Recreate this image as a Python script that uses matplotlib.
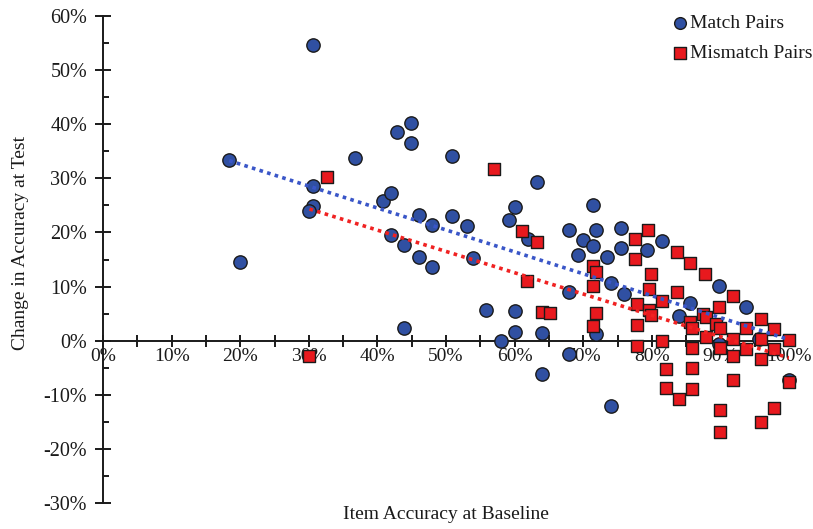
import numpy as np
import matplotlib
matplotlib.use("Agg")
import matplotlib.pyplot as plt
from matplotlib.ticker import MultipleLocator, FuncFormatter

plt.rcParams['font.family'] = ['Liberation Serif', 'DejaVu Serif']

# baseline accuracy (%) and change at test (%)
match_x = [18.4, 20.0, 30.6, 30.6, 30.6, 30.0, 36.8, 40.8, 42.0, 42.0,
           42.8, 44.9, 44.9, 43.9, 43.9, 46.0, 46.0, 48.0, 48.0, 50.9,
           50.9, 53.0, 53.9, 55.9, 58.0, 60.0, 60.0, 59.2, 60.0, 63.3,
           61.9, 64.0, 64.0, 67.9, 67.9, 67.9, 70.0, 69.3, 71.4, 71.4,
           71.9, 71.9, 73.4, 74.0, 74.0, 75.5, 75.5, 75.9, 79.3, 81.5,
           85.6, 84.0, 89.8, 89.8, 93.8, 95.6, 100.0]
match_y = [33.4, 14.6, 54.6, 28.6, 24.9, 23.9, 33.7, 25.9, 27.3, 19.6,
           38.6, 40.3, 36.6, 17.6, 2.3, 23.3, 15.5, 21.3, 13.7, 34.2,
           23.1, 21.1, 15.3, 5.6, -0.1, 5.4, 1.6, 22.3, 24.7, 29.4,
           18.8, 1.5, -6.2, 20.5, 9.0, -2.5, 18.6, 15.9, 25.0, 17.5,
           20.4, 1.2, 15.5, 10.7, -12.1, 20.8, 17.2, 8.7, 16.8, 18.4,
           7.0, 4.6, 10.1, -0.7, 6.3, 0.4, -7.2]

mismatch_x = [30.1, 32.6, 57.0, 61.1, 63.3, 61.8, 64.0, 65.2, 71.4, 71.9,
              71.4, 71.9, 71.4, 77.5, 77.5, 77.9, 77.9, 77.9, 79.5, 79.9,
              79.6, 79.6, 79.9, 81.5, 81.5, 82.0, 82.0, 84.0, 83.6, 83.6,
              85.6, 85.6, 85.9, 85.9, 85.9, 85.9, 87.8, 87.5, 87.9, 87.9,
              89.8, 89.4, 89.9, 89.9, 89.9, 89.9, 91.8, 91.9, 91.8, 91.9,
              93.8, 93.8, 95.9, 95.9, 95.9, 95.9, 97.8, 97.8, 97.8, 100.0,
              100.0]
mismatch_y = [-2.9, 30.3, 31.8, 20.3, 18.3, 11.1, 5.3, 5.2, 13.8, 12.7,
              10.1, 5.1, 2.7, 18.8, 15.1, 6.7, 2.9, -1.0, 20.5, 12.4,
              9.5, 5.7, 4.8, 7.3, -0.1, -5.2, -8.8, -10.8, 16.4, 9.0,
              14.3, 3.4, 2.4, -1.3, -5.1, -8.9, 12.4, 4.9, 4.3, 0.6,
              6.3, 3.0, 2.4, -1.4, -12.9, -16.8, 8.2, 0.3, -2.8, -7.2,
              2.4, -1.5, 4.0, 0.4, -3.4, -15.1, 2.1, -1.6, -12.5, 0.1,
              -7.6]

fig = plt.figure(figsize=(8.13, 5.29), dpi=100)
ax = fig.add_axes([0.1267, 0.0491, 0.8438, 0.9207])

blue = '#3050a2'
red = '#e8191e'
ink = '#1a1a1a'

ax.scatter(match_x, match_y, s=92, marker='o', facecolor=blue,
           edgecolor=ink, linewidth=1.0, zorder=3, clip_on=False,
           label='Match Pairs')
ax.scatter(mismatch_x, mismatch_y, s=82, marker='s', facecolor=red,
           edgecolor=ink, linewidth=1.0, zorder=4, clip_on=False,
           label='Mismatch Pairs')

# linear trend lines
for xs, ys, c in [(match_x, match_y, '#3a56c8'), (mismatch_x, mismatch_y, '#f02222')]:
    xs = np.array(xs)
    k, b = np.polyfit(xs, np.array(ys), 1)
    xx = np.array([xs.min(), xs.max()])
    ax.plot(xx, k * xx + b, linestyle=(0, (1, 1.2)), color=c, linewidth=2.6,
            zorder=5)

ax.set_xlim(0, 100)
ax.set_ylim(-30, 60)

ax.spines['top'].set_visible(False)
ax.spines['right'].set_visible(False)
ax.spines['bottom'].set_position(('data', 0))
for sp in ('left', 'bottom'):
    ax.spines[sp].set_linewidth(1.4)
    ax.spines[sp].set_color(ink)

pct = FuncFormatter(lambda v, p: '%d%%' % round(v))
ax.xaxis.set_major_locator(MultipleLocator(10))
ax.xaxis.set_minor_locator(MultipleLocator(5))
ax.yaxis.set_major_locator(MultipleLocator(10))
ax.yaxis.set_minor_locator(MultipleLocator(5))
ax.xaxis.set_major_formatter(pct)
ax.yaxis.set_major_formatter(pct)

ax.tick_params(axis='x', which='both', direction='inout', length=9, width=1.4,
               color=ink, labelsize=14, pad=1, labelcolor=ink)
ax.tick_params(axis='y', which='major', direction='inout', length=11, width=1.4,
               color=ink, labelsize=14.5, pad=6, labelcolor=ink)
ax.tick_params(axis='y', which='minor', direction='in', length=4, width=1.4,
               color=ink)

fig.text(0.549, 0.027, 'Item Accuracy at Baseline', ha='center', va='center',
         fontsize=14, color=ink)
fig.text(0.025, 0.541, 'Change in Accuracy at Test', ha='center', va='center',
         rotation=90, fontsize=14, color=ink)

ax.legend(loc='upper right', bbox_to_anchor=(1.046, 1.02), frameon=False,
          fontsize=14, handletextpad=0.05, handlelength=1.0, labelspacing=0.65,
          markerscale=0.88, borderaxespad=0.0, labelcolor=ink)

fig.savefig('out.png', dpi=100)
